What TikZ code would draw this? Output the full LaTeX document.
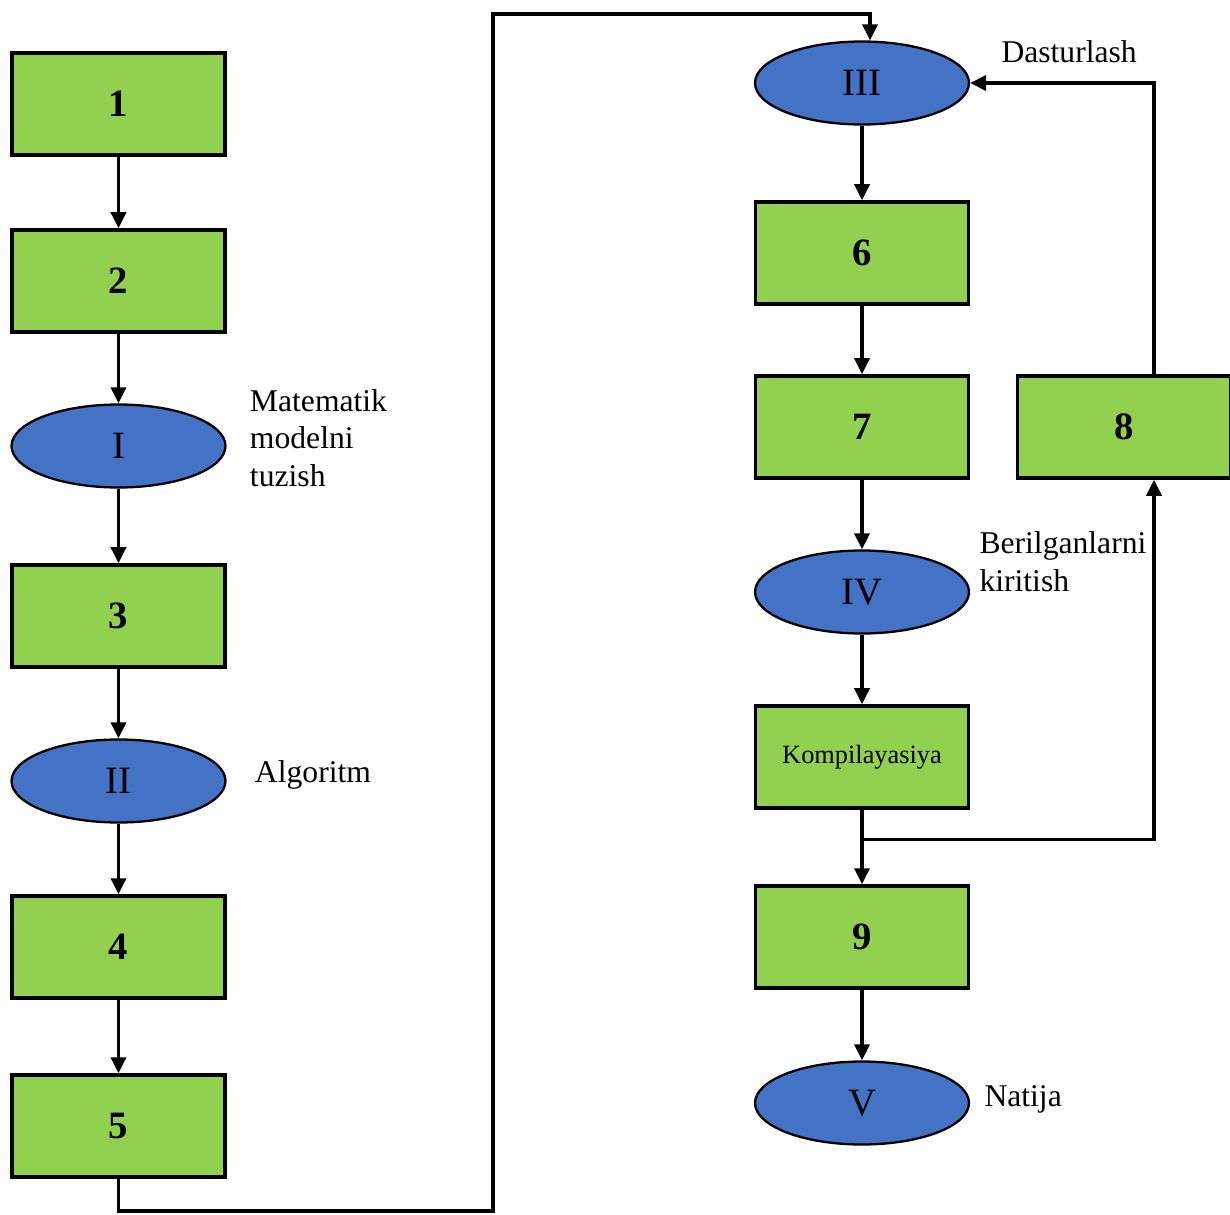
\documentclass[tikz,border=0pt]{standalone}
\usepackage{fontspec}
\setmainfont{Liberation Serif}
\usepackage{xcolor}
\usepackage{tikz}
\usetikzlibrary{shapes.geometric, arrows.meta, positioning, calc}
\definecolor{boxgreen}{HTML}{92D050}
\definecolor{ovalblue}{HTML}{4472C4}
\tikzstyle{stage} = [rectangle, minimum width=4.26cm, minimum height=2.04cm, text centered, draw=black, line width=2pt, fill=boxgreen, font=\fontsize{22}{26}\selectfont\bfseries]
\tikzstyle{phase} = [ellipse, minimum width=4.28cm, minimum height=1.66cm, text centered, draw=black, line width=1.3pt, fill=ovalblue, font=\fontsize{22}{26}\selectfont]
\tikzstyle{note} = [align=left, inner sep=0pt, font=\fontsize{18}{21.5}\selectfont]
\tikzstyle{arrow} = [line width=2pt, -{Triangle[length=0.32cm, width=0.3cm]}]

\begin{document}
\begin{tikzpicture}[node distance=3.4cm]
\useasboundingbox (0,0) rectangle (24.6,-24.28);
% left column
\node (n1) [stage] at (2.37,-2.08) {1};
\node (n2) [stage, below of=n1, yshift=-0.14cm] {2};
\node (nI) [phase, below of=n2, yshift=0.1cm] {I};
\node (n3) [stage, below of=nI] {3};
\node (nII) [phase, below of=n3, yshift=0.1cm] {II};
\node (n4) [stage, below of=nII, yshift=0.08cm] {4};
\node (n5) [stage, below of=n4, yshift=-0.18cm] {5};
% right column
\node (nIII) [phase] at (17.24,-1.66) {III};
\node (n6) [stage, below of=nIII] {6};
\node (n7) [stage, below of=n6, yshift=-0.08cm] {7};
\node (n8) [stage, right of=n7, xshift=1.84cm] {8};
\node (nIV) [phase, below of=n7, yshift=0.1cm] {IV};
\node (nK) [stage, below of=nIV, yshift=0.1cm, font=\fontsize{15}{18}\selectfont] {Kompilayasiya};
\node (n9) [stage, below of=nK, yshift=-0.2cm] {9};
\node (nV) [phase, below of=n9, yshift=0.08cm] {V};

\node (tI) [note, right=0.46cm of nI, yshift=0.16cm] {Matematik\\modelni\\tuzish};
\node (tII) [note, right=0.56cm of nII, yshift=0.12cm] {Algoritm};
\node (tIII) [note, right=0.62cm of nIII, yshift=0.62cm] {Dasturlash};
\node (tIV) [note, right=0.18cm of nIV, yshift=0.6cm] {Berilganlarni\\kiritish};
\node (tV) [note, right=0.28cm of nV, yshift=0.08cm] {Natija};

\coordinate (loopbot) at (9.86,-24.22);
\coordinate (looptop) at (9.86,-0.28);
\coordinate (split) at ($(nK.south)!0.4!(n9.north)$);

\draw [arrow] (n1) -- (n2);
\draw [arrow] (n2) -- (nI);
\draw [arrow] (nI) -- (n3);
\draw [arrow] (n3) -- (nII);
\draw [arrow] (nII) -- (n4);
\draw [arrow] (n4) -- (n5);
\draw [arrow] (n5.south) |- (loopbot) -- (looptop) -| ([xshift=0.16cm]nIII.north);
\draw [arrow] (nIII) -- (n6);
\draw [arrow] (n6) -- (n7);
\draw [arrow] (n7) -- (nIV);
\draw [arrow] (nIV) -- (nK);
\draw [arrow] (nK) -- (n9);
\draw [arrow] (split) -| ([xshift=0.6cm]n8.south);
\draw [arrow] ([xshift=0.6cm]n8.north) |- (nIII.east);
\draw [arrow] (n9) -- (nV);
\end{tikzpicture}
\end{document}
